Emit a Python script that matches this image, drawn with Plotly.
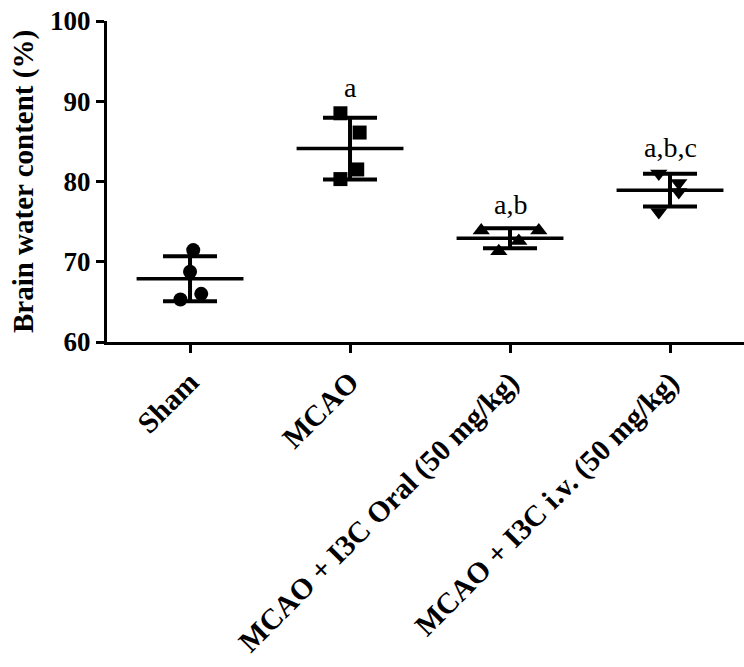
import numpy as np
import plotly.graph_objects as go

categories = ["Sham", "MCAO", "MCAO + I3C Oral (50 mg/kg)", "MCAO + I3C i.v. (50 mg/kg)"]
sham = [71.45, 68.75, 65.3, 66.0]
mcao = [88.5, 86.1, 81.5, 80.3]
i3c_oral = [73.9, 73.9, 72.6, 71.3]
i3c_iv = [81.0, 79.8, 78.7, 76.2]
groups = [sham, mcao, i3c_oral, i3c_iv]
jitter = [
    [0.02, 0.0, -0.06, 0.07],
    [-0.06, 0.06, 0.045, -0.06],
    [-0.18, 0.18, 0.055, -0.07],
    [-0.07, 0.055, 0.055, -0.07],
]
symbols = ["circle", "square", "triangle-up", "triangle-down"]
sig_labels = ["", "a", "a,b", "a,b,c"]
y_ticks = [60, 70, 80, 90, 100]

FONT = "Liberation Serif"
fig = go.Figure()

means = [float(np.mean(g)) for g in groups]
sds = [float(np.std(g, ddof=1)) for g in groups]
xs = list(range(len(categories)))

# mean line + SD error bars
fig.add_trace(go.Scatter(
    x=xs, y=means, mode="markers",
    marker=dict(size=0.1, color="black", opacity=0),
    error_x=dict(type="constant", value=0.334, width=0, thickness=3.5, color="black"),
    error_y=dict(type="data", array=sds, width=27, thickness=4, color="black"),
    showlegend=False, hoverinfo="skip",
))

for i, g in enumerate(groups):
    fig.add_trace(go.Scatter(
        x=[i + j for j in jitter[i]], y=g, mode="markers",
        marker=dict(symbol=symbols[i], size=14 if symbols[i] in ("circle", "square") else 15,
                    color="black", line=dict(width=0)),
        showlegend=False,
    ))

for i, lab in enumerate(sig_labels):
    if lab:
        fig.add_annotation(x=i, y=max(groups[i]), text=lab, showarrow=False,
                           yanchor="middle", yshift=26,
                           font=dict(family=FONT, size=28, color="black"))

fig.update_layout(
    width=744, height=667,
    margin=dict(l=107, r=0, t=21, b=325, autoexpand=False),
    plot_bgcolor="white", paper_bgcolor="white",
)
fig.update_xaxes(
    range=[-0.519, 3.4625], tickmode="array", tickvals=xs, ticktext=categories,
    tickangle=-45, showline=True, linewidth=3, linecolor="black",
    ticks="outside", ticklen=8, tickwidth=3, tickcolor="black",
    showgrid=False, zeroline=False,
    tickfont=dict(family=FONT, size=29.5, color="black", weight="bold"),
)
fig.update_yaxes(
    range=[60, 100], tickmode="array", tickvals=y_ticks,
    showline=True, linewidth=3, linecolor="black",
    ticks="outside", ticklen=8, tickwidth=3, tickcolor="black",
    showgrid=False, zeroline=False,
    tickfont=dict(family=FONT, size=27, color="black", weight="bold"),
    title=dict(text="Brain water content (%)", standoff=8,
               font=dict(family=FONT, size=29, color="black", weight="bold")),
)

fig.write_html("out.html")
